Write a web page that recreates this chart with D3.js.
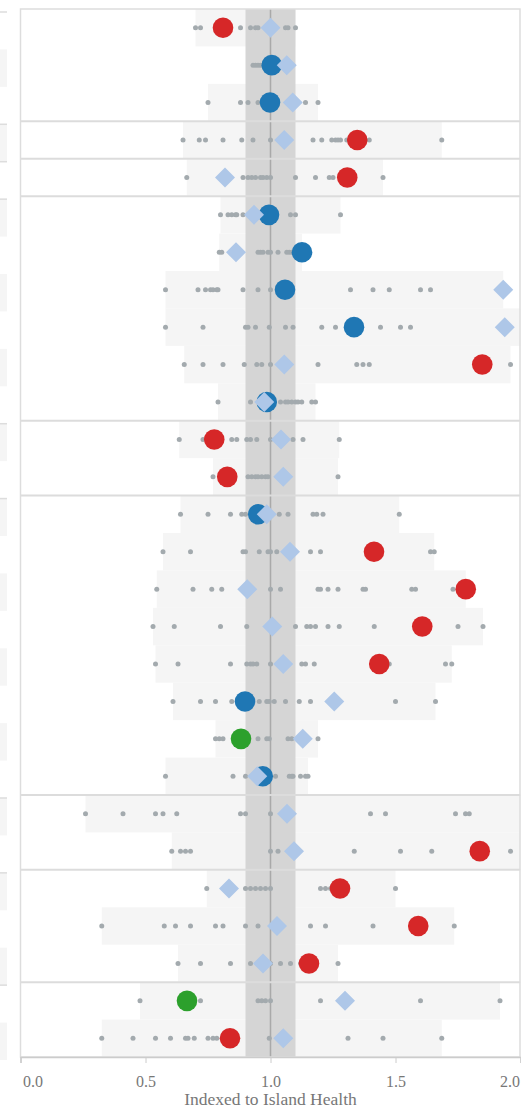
<!DOCTYPE html>
<html>
<head>
  <meta charset="utf-8">
  <script src="https://d3js.org/d3.v7.min.js"></script>
  <style>
  body { margin: 0; background: #fff; }
  .tick text, .xtitle { font-family: "Liberation Serif", serif; fill: #777; }
  </style>
</head>
<body>
<div id="chart"></div>
<script type="text/javascript">
// one row per indicator, values indexed to Island Health (1.0)
var rowIds = d3.range(28);
// circle colour per row: r = worse, b = no difference, g = better, "" = none
var focusKind = ["r","b","b","r","r","b","b","b","b","r","b","r","r","b",
                 "r","r","r","r","b","g","b","","r","r","r","r","g","r"];
var focusVal = [0.81,1.005,0.998,1.347,1.307,0.994,1.126,1.058,1.334,1.847,0.985,0.775,0.827,0.951,
                1.414,1.781,1.607,1.435,0.898,0.882,0.969,null,1.837,1.278,1.591,1.154,0.666,0.838];
var diamondVal = [1.0,1.065,1.089,1.055,0.818,0.934,0.862,1.931,1.937,1.055,0.975,1.042,1.051,0.985,
                  1.078,0.907,1.007,1.051,1.255,1.129,0.947,1.066,1.094,0.834,1.026,0.97,1.298,1.051];
var dotVals = [
  [0.70,0.72,0.88,0.92,0.94,0.95,1.0,1.06,1.07,1.10],
  [0.93,0.94,0.95,0.96,0.97,1.0],
  [0.75,0.88,0.91,0.95,1.14,1.19],
  [0.65,0.715,0.74,0.81,0.885,0.93,1.0,1.17,1.205,1.245,1.26,1.27,1.28,1.305,1.395,1.685],
  [0.665,0.89,0.91,0.925,0.94,0.96,0.97,0.985,1.0,1.10,1.18,1.235,1.25,1.45],
  [0.80,0.83,0.845,0.86,0.865,0.89,0.92,1.08,1.10,1.28],
  [0.795,0.805,0.95,0.96,0.97,0.99,1.0,1.03,1.065,1.075,1.085],
  [0.58,0.71,0.74,0.76,0.77,0.785,0.79,0.89,0.95,1.0,1.32,1.41,1.475,1.60,1.64],
  [0.58,0.73,0.90,0.91,0.94,0.995,1.06,1.09,1.205,1.26,1.44,1.52,1.56,2.1],
  [0.655,0.73,0.81,0.895,0.945,0.965,1.0,1.19,1.345,1.37,1.395,1.96],
  [0.79,0.92,1.04,1.06,1.07,1.085,1.10,1.11,1.125,1.165,1.18],
  [0.635,0.73,0.845,0.865,0.905,0.92,0.945,1.0,1.09,1.13,1.275],
  [0.77,0.91,0.925,0.94,0.95,0.965,0.98,0.99,1.27],
  [0.64,0.75,0.84,0.885,0.90,1.035,1.07,1.17,1.185,1.21,1.515],
  [0.57,0.68,0.89,0.90,0.955,0.99,1.0,1.025,1.16,1.20,1.64,1.655],
  [0.545,0.69,0.765,0.805,1.0,1.04,1.19,1.20,1.23,1.27,1.37,1.38,1.565,1.58,1.73],
  [0.53,0.615,0.80,0.905,1.10,1.145,1.16,1.18,1.23,1.275,1.415,1.75,1.85],
  [0.54,0.63,0.84,0.905,0.92,0.93,0.945,1.0,1.125,1.14,1.175,1.475,1.70,1.725],
  [0.61,0.72,0.78,0.845,0.955,0.985,0.995,1.015,1.06,1.115,1.16,1.50,1.66],
  [0.78,0.795,0.81,0.95,0.985,0.995,1.07,1.085,1.19],
  [0.58,0.85,0.90,1.02,1.075,1.085,1.09,1.12,1.14,1.15],
  [0.26,0.41,0.54,0.57,0.625,0.88,0.90,1.0,1.40,1.46,1.74,1.78,1.795,2.1],
  [0.605,0.64,0.66,0.68,1.0,1.03,1.335,1.52,1.645,1.96,2.1],
  [0.745,0.90,0.92,0.94,0.96,0.98,1.0,1.20,1.22,1.24,1.50],
  [0.325,0.575,0.62,0.68,0.78,0.81,0.90,0.95,1.16,1.22,1.41,1.735],
  [0.63,0.72,0.84,0.92,1.0,1.04,1.08,1.12,1.27],
  [0.478,0.72,0.95,0.965,0.98,1.0,1.20,1.60,1.918],
  [0.325,0.45,0.54,0.60,0.66,0.67,0.695,0.75,0.77,0.785,0.995,1.31,1.45,1.685]
];
var groupBreaks = [3,4,5,11,13,21,23,26];
var xTicks = [0,0.5,1,1.5,2];
var bandLo = 0.9, bandHi = 1.1;

var colors = {r:"#d62728", b:"#1f77b4", g:"#2ca02c"};

var svg = d3.select("#chart").append("svg")
  .attr("width", 521).attr("height", 1110);

var x = d3.scaleLinear().domain([0,2]).range([20.5,520.5]);
var y = d3.scaleBand().domain(rowIds).range([9,1057]);

// left neighbour panel edge (cut off)
svg.selectAll(".lstripe").data(rowIds.filter(function(d){ return d%2==1; }))
  .enter().append("rect")
  .attr("x",0).attr("width",7)
  .attr("y",function(d){ return y(d)+3; })
  .attr("height",y.bandwidth())
  .attr("fill","#f5f5f5");
svg.selectAll(".lline").data([0].concat(groupBreaks))
  .enter().append("line")
  .attr("x1",0).attr("x2",7)
  .attr("y1",function(d){ return y(d)+3; })
  .attr("y2",function(d){ return y(d)+3; })
  .attr("stroke","#ddd").attr("stroke-width",1.5);

svg.append("clipPath").attr("id","plotclip").append("rect")
  .attr("x",20.5).attr("y",9).attr("width",500).attr("height",1048);

var plot = svg.append("g").attr("clip-path","url(#plotclip)");

function rowExtent(i){
  var all = dotVals[i].concat([diamondVal[i]]).concat(focusVal[i]==null?[]:[focusVal[i]]);
  return d3.extent(all);
}

// range bars
plot.selectAll(".rng").data(rowIds).enter().append("rect")
  .attr("x",function(i){ return x(rowExtent(i)[0]); })
  .attr("width",function(i){ var e = rowExtent(i); return x(e[1]) - x(e[0]); })
  .attr("y",function(i){ return y(i); })
  .attr("height",y.bandwidth())
  .attr("fill","#f5f5f5");

// reference band
plot.append("rect")
  .attr("x",x(bandLo)).attr("width",x(bandHi)-x(bandLo))
  .attr("y",9).attr("height",1048)
  .attr("fill","#d5d5d5");
plot.append("line")
  .attr("x1",x(1)).attr("x2",x(1)).attr("y1",9).attr("y2",1057)
  .attr("stroke","#a9a9a9").attr("stroke-width",1.5);

// group separators
plot.selectAll(".sep").data(groupBreaks).enter().append("line")
  .attr("x1",20.5).attr("x2",520.5)
  .attr("y1",function(d){ return y(d); })
  .attr("y2",function(d){ return y(d); })
  .attr("stroke","#dcdcdc").attr("stroke-width",2);

// dots
rowIds.forEach(function(i){
  plot.selectAll(".dot"+i).data(dotVals[i]).enter().append("circle")
    .attr("cx",function(d){ return x(d); })
    .attr("cy",y(i)+y.bandwidth()/2)
    .attr("r",2.5)
    .attr("fill","#a3aaae");
});

// focus circles
plot.selectAll(".focus").data(rowIds.filter(function(i){ return focusVal[i]!=null; }))
  .enter().append("circle")
  .attr("cx",function(i){ return x(focusVal[i]); })
  .attr("cy",function(i){ return y(i)+y.bandwidth()/2; })
  .attr("r",10.3)
  .attr("fill",function(i){ return colors[focusKind[i]]; });

// diamonds
plot.selectAll(".dia").data(rowIds).enter().append("path")
  .attr("d","M0,-10L10,0L0,10L-10,0Z")
  .attr("transform",function(i){ return "translate("+x(diamondVal[i])+","+(y(i)+y.bandwidth()/2)+")"; })
  .attr("fill","#aec7e8");

// frame
svg.append("rect")
  .attr("x",20.5).attr("y",9).attr("width",499.5).attr("height",1048)
  .attr("fill","none").attr("stroke","#ddd").attr("stroke-width",1.5);

// axis
var ax = svg.append("g").attr("transform","translate(0,1057)")
  .call(d3.axisBottom(x).tickValues(xTicks).tickFormat(d3.format(".1f")).tickSize(6).tickPadding(13));
ax.select(".domain").attr("stroke","#ccc").attr("stroke-width",1.5);
ax.selectAll(".tick line").attr("stroke","#ccc");
ax.selectAll(".tick text").style("font-size","16px");
ax.selectAll(".tick text").filter(function(d){ return d==0; }).attr("text-anchor","start").attr("dx",2);
ax.selectAll(".tick text").filter(function(d){ return d==2; }).attr("text-anchor","end").attr("dx",-1);

svg.append("text").attr("class","xtitle")
  .attr("x",x(1)).attr("y",1105)
  .attr("text-anchor","middle")
  .style("font-size","17.5px")
  .text("Indexed to Island Health");
</script>
</body>
</html>
